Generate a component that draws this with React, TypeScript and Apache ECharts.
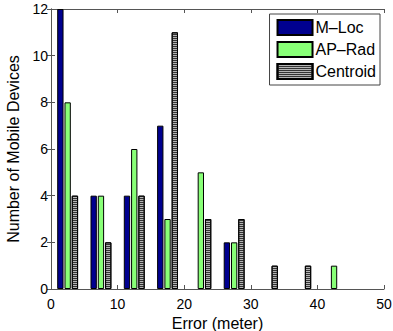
import React, { useEffect, useRef } from "react";
import * as echarts from "echarts";

const groups = ["0-5", "5-10", "10-15", "15-20", "20-25", "25-30", "30-35", "35-40", "40-45", "45-50"];
const mLoc = [12, 4, 4, 7, null, 2, null, null, null, null];
const apRad = [8, 4, 6, 3, 5, 2, null, null, 1, null];
const centroid = [4, 2, 4, 11, 3, 3, 1, 1, null, null];
const seriesNames = ["M\u2013Loc", "AP\u2013Rad", "Centroid"];

export default function App() {
  const ref = useRef<HTMLDivElement>(null);
  useEffect(() => {
    if (!ref.current) return;
    const chart = echarts.init(ref.current, undefined, { renderer: "svg" });
    const font = "Liberation Sans, Arial, sans-serif";
    const axisColor = "#555";
    const barBase = {
      type: "bar" as const,
      xAxisIndex: 0,
      yAxisIndex: 0,
      barWidth: "19%",
      barGap: "15%",
    };
    chart.setOption({
      animation: false,
      grid: { left: 51, right: 9, top: 9, bottom: 42, outerBoundsMode: "none", containLabel: false },
      legend: {
        orient: "vertical",
        right: 13,
        top: 14,
        icon: "rect",
        itemWidth: 35,
        itemHeight: 15,
        itemGap: 5,
        padding: [5, 4, 5, 7],
        borderColor: "#444",
        borderWidth: 1,
        backgroundColor: "#fff",
        textStyle: { fontFamily: font, fontSize: 16, lineHeight: 15, color: "#000", padding: [0, 0, 0, -2] },
        data: seriesNames,
      },
      xAxis: [
        { type: "category", data: groups, show: false, boundaryGap: true },
        {
          type: "value",
          position: "bottom",
          min: 0,
          max: 50,
          interval: 10,
          axisLine: { show: true, lineStyle: { color: axisColor } },
          axisTick: { show: true, inside: true, length: 4, lineStyle: { color: axisColor } },
          axisLabel: { fontFamily: font, fontSize: 14, color: "#000", margin: 8 },
          splitLine: { show: false },
          name: "Error (meter)",
          nameLocation: "middle",
          nameGap: 23,
          nameTextStyle: { fontFamily: font, fontSize: 16, color: "#000" },
        },
        {
          type: "value",
          position: "top",
          min: 0,
          max: 50,
          interval: 10,
          axisLine: { show: true, lineStyle: { color: axisColor } },
          axisTick: { show: true, inside: true, length: 4, lineStyle: { color: axisColor } },
          axisLabel: { show: false },
          splitLine: { show: false },
        },
      ],
      yAxis: [
        {
          type: "value",
          position: "left",
          min: 0,
          max: 12,
          interval: 2,
          axisLine: { show: true, lineStyle: { color: axisColor } },
          axisTick: { show: true, inside: true, length: 4, lineStyle: { color: axisColor } },
          axisLabel: { fontFamily: font, fontSize: 14, color: "#000", margin: 3 },
          splitLine: { show: false },
          name: "Number of Mobile Devices",
          nameLocation: "middle",
          nameGap: 30,
          nameTextStyle: { fontFamily: font, fontSize: 16, color: "#000" },
        },
        {
          type: "value",
          position: "right",
          min: 0,
          max: 12,
          interval: 2,
          axisLine: { show: true, lineStyle: { color: axisColor } },
          axisTick: { show: true, inside: true, length: 4, lineStyle: { color: axisColor } },
          axisLabel: { show: false },
          splitLine: { show: false },
        },
      ],
      series: [
        {
          ...barBase,
          name: seriesNames[0],
          data: mLoc,
          itemStyle: { color: "#00008f", borderColor: "#000", borderWidth: 1 },
        },
        {
          ...barBase,
          name: seriesNames[1],
          data: apRad,
          itemStyle: { color: "#88ff77", borderColor: "#000", borderWidth: 1 },
        },
        {
          ...barBase,
          name: seriesNames[2],
          data: centroid,
          itemStyle: {
            color: "#b4b4b4",
            borderColor: "#000",
            borderWidth: 1,
            decal: {
              symbol: "rect",
              symbolSize: 1,
              color: "#333",
              dashArrayX: [1, 0],
              dashArrayY: [1, 1],
              rotation: 0,
            },
          },
        },
      ],
    });
    return () => chart.dispose();
  }, []);
  return <div ref={ref} style={{ width: 393, height: 331, position: "absolute", left: 0, top: 0, background: "#fff" }} />;
}
